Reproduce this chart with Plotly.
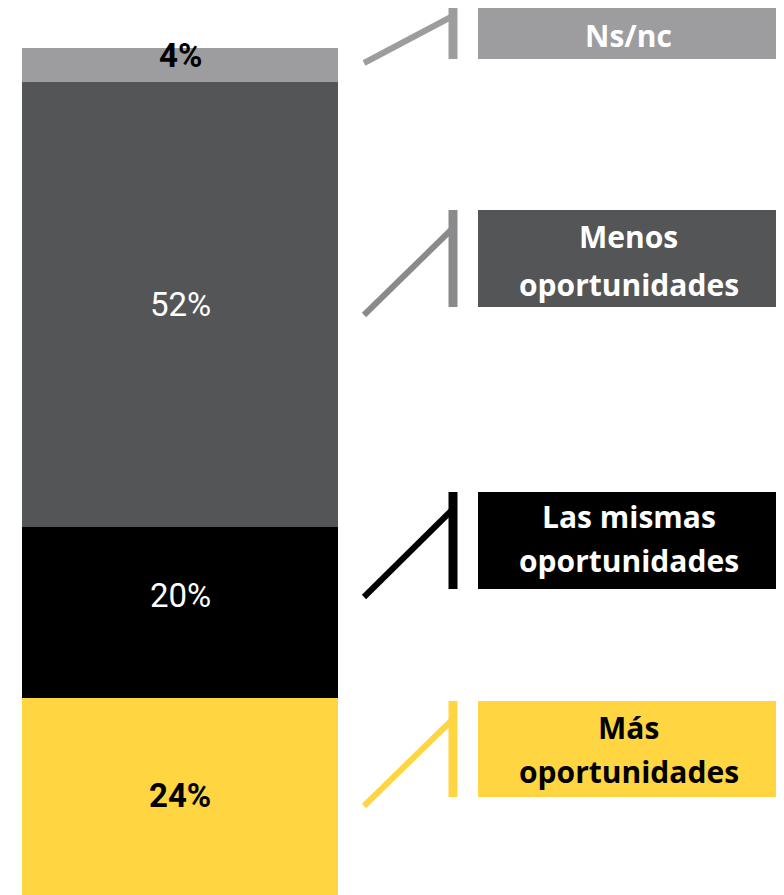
import plotly.graph_objects as go

# The page body adds an 8px margin, so the figure is drawn 8px in from the corner.
OFF = 8
W, H = 784 - OFF, 895 - OFF

# Data (stack order bottom -> top)
categories = ["Más oportunidades", "Las mismas oportunidades", "Menos oportunidades", "Ns/nc"]
category_lines = [["Más", "oportunidades"], ["Las mismas", "oportunidades"],
                  ["Menos", "oportunidades"], ["Ns/nc"]]
values = [24, 20, 52, 4]
labels = ["24%", "20%", "52%", "4%"]
bar_colors = ["#FFD541", "#000000", "#545557", "#9D9D9F"]
label_colors = ["#000000", "#FFFFFF", "#FFFFFF", "#000000"]
box_text_colors = ["#000000", "#FFFFFF", "#FFFFFF", "#FFFFFF"]
connector_colors = ["#FFD541", "#000000", "#8A8A8C", "#9D9D9F"]

# Layout helpers (screen pixel -> paper)
def px(x):
    return (x - OFF) / W

def py(y):
    return 1 - (y - OFF) / H

# legend box geometry in screen pixels (top, bottom) per category
box_y = [(701, 797), (492, 589), (210, 307), (5, 59)]
line_y = [[727, 771], [516, 560], [236, 284], [36]]
diag = [((364, 806), (451, 721)), ((364, 597), (451, 511)),
        ((364, 315), (451, 230)), ((364, 63), (451, 17))]
label_shift = [5, 17, 0, 10]
label_bold = [True, False, False, True]

fig = go.Figure()
for cat, v, c in zip(categories, values, bar_colors):
    fig.add_trace(go.Bar(x=[0], y=[v], marker=dict(color=c, line=dict(width=0)),
                         name=cat, width=1, hoverinfo="skip"))

shapes = []
annotations = []
cum = 0
for i, v in enumerate(values):
    center = cum + v / 2
    cum += v
    txt = f"<b>{labels[i]}</b>" if label_bold[i] else labels[i]
    annotations.append(dict(x=0, y=center, xref="x", yref="y", text=txt, showarrow=False,
                            yshift=label_shift[i],
                            font=dict(family="Roboto", size=33, color=label_colors[i])))
    t, b = box_y[i]
    shapes.append(dict(type="rect", xref="paper", yref="paper",
                       x0=px(478), x1=px(779), y0=py(b), y1=py(t),
                       fillcolor=bar_colors[i], line=dict(width=0)))
    shapes.append(dict(type="line", xref="paper", yref="paper",
                       x0=px(453), x1=px(453), y0=py(b), y1=py(t),
                       line=dict(color=connector_colors[i], width=9)))
    (x0, y0), (x1, y1) = diag[i]
    shapes.append(dict(type="line", xref="paper", yref="paper",
                       x0=px(x0), x1=px(x1), y0=py(y0), y1=py(y1),
                       line=dict(color=connector_colors[i], width=6)))
    for line_txt, ly in zip(category_lines[i], line_y[i]):
        annotations.append(dict(x=px(628.5), y=py(ly), xref="paper", yref="paper",
                                text=f"<b>{line_txt}</b>", showarrow=False,
                                xanchor="center", yanchor="middle",
                                font=dict(family="Open Sans", size=30, color=box_text_colors[i])))

fig.update_layout(
    width=W, height=H,
    margin=dict(l=0, r=0, t=0, b=0),
    barmode="stack",
    showlegend=False,
    plot_bgcolor="white", paper_bgcolor="white",
    xaxis=dict(domain=[px(22), px(338)], range=[-0.5, 0.5], visible=False, fixedrange=True),
    yaxis=dict(domain=[0, py(48)], range=[1, 100], visible=False, fixedrange=True),
    shapes=shapes,
    annotations=annotations,
)

fig.write_html("out.html")
